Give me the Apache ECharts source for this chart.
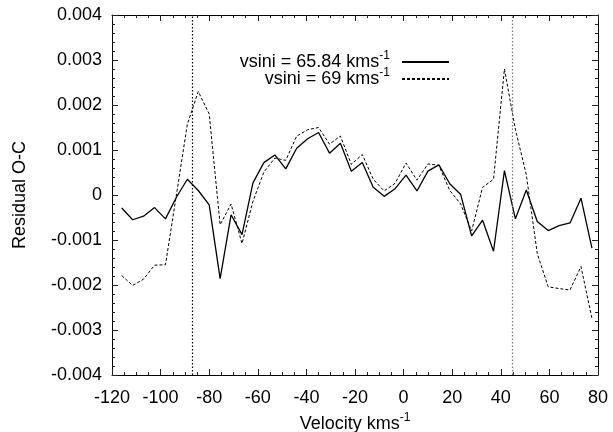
<!DOCTYPE html>
<html>
<head>
<meta charset="utf-8">
<script src="https://cdn.jsdelivr.net/npm/echarts@6/dist/echarts.min.js"></script>
<style>
html, body { margin: 0; padding: 0; background: #fff; }
#chart { width: 613px; height: 432px; }
</style>
</head>
<body>
<div id="chart"></div>
<script>
// velocity grid (km/s)
var velocity = [-116, -111.5, -107, -102.5, -98, -93.5, -89, -84.5, -80, -75.5,
	-71, -66.5, -62, -57.5, -53, -48.5, -44, -39.5, -35, -30.5,
	-26, -21.5, -17, -12.5, -8, -3.5, 1, 5.5, 10, 14.5,
	19, 23.5, 28, 32.5, 37, 41.5, 46, 50.5, 55, 59.5,
	64, 68.5, 73, 77.5];
// residuals, vsini = 65.84
var residualFit = [-0.00029, -0.00055, -0.00047, -0.00028, -0.00053, -0.00005, 0.00035, 0.0001, -0.00022, -0.00186,
	-0.00044, -0.00088, 0.00027, 0.00072, 0.00089, 0.00058, 0.00104, 0.00125, 0.00139, 0.00093,
	0.00115, 0.00053, 0.00072, 0.00017, -0.00003, 0.00014, 0.00044, 0.00009, 0.00053, 0.00067,
	0.00025, 0.00001, -0.00091, -0.00056, -0.00125, 0.00054, -0.00053, 0.00011, -0.00059, -0.00079,
	-0.00068, -0.00062, -0.00007, -0.00118];
// residuals, vsini = 69
var residualAlt = [-0.00179, -0.00201, -0.00187, -0.00156, -0.00155, 0.0, 0.00157, 0.0023, 0.0018, -0.00066,
	-0.0002, -0.00108, -0.00014, 0.00051, 0.00082, 0.00077, 0.00131, 0.00145, 0.0015, 0.00113,
	0.00131, 0.00068, 0.0009, 0.00035, 0.00009, 0.00026, 0.00071, 0.00033, 0.00069, 0.00066,
	0.0001, -0.0002, -0.0008, 0.00017, 0.00035, 0.0028, 0.00146, 0.00045, -0.0013, -0.00204,
	-0.00208, -0.00211, -0.00159, -0.00274];
var seriesNames = ['vsini = 65.84', 'vsini = 69'];
// vertical dotted markers
var guideLines = [-86.8, 44.9];

var FONT = '"Liberation Sans", Arial, sans-serif';

var chart = echarts.init(document.getElementById('chart'));

function pairs(ys) {
	var out = [];
	for (var i = 0; i < velocity.length; i++) {
		out.push([velocity[i], ys[i]]);
	}
	return out;
}

function supRich(size) {
	return {
		t: { fontSize: size, fontFamily: FONT, color: '#000' },
		s: { fontSize: 12, fontFamily: FONT, color: '#000', padding: [0, 0, 12, 0] }
	};
}

function frameAxis(pos, isX, showLabel) {
	var ax = {
		type: 'value',
		position: pos,
		axisLine: { show: true, onZero: false, lineStyle: { color: '#000', width: 1 } },
		axisTick: { show: true, inside: true, length: 6, lineStyle: { color: '#222' } },
		minorTick: { show: true, splitNumber: isX ? 4 : 5, length: 3, lineStyle: { color: '#222' } },
		splitLine: { show: false },
		axisLabel: { show: showLabel, fontSize: 18, fontFamily: FONT, color: '#000', margin: isX ? 14 : 10 }
	};
	if (isX) {
		ax.min = -120; ax.max = 80; ax.interval = 20;
	} else {
		ax.min = -0.004; ax.max = 0.004; ax.interval = 0.001;
		ax.axisLabel.formatter = function(v) {
			return Math.abs(v) < 1e-9 ? '0' : v.toFixed(3);
		};
	}
	return ax;
}

var xBottom = frameAxis('bottom', true, true);
xBottom.name = '{t|Velocity kms}{s|-1}';
xBottom.nameLocation = 'middle';
xBottom.nameGap = 36;
xBottom.nameTextStyle = { rich: supRich(18) };

var yLeft = frameAxis('left', false, true);
yLeft.name = 'Residual O-C';
yLeft.nameLocation = 'middle';
yLeft.nameRotate = 90;
yLeft.nameGap = 83;
yLeft.nameTextStyle = { fontSize: 18, fontFamily: FONT, color: '#000' };

function legendFor(name, top) {
	return {
		data: [name],
		right: 163,
		top: top,
		align: 'right',
		padding: 0,
		itemWidth: 47,
		itemHeight: 10,
		selectedMode: false,
		itemStyle: { opacity: 0 },
		formatter: function(n) { return '{t|' + n + ' kms}{s|-1}'; },
		textStyle: { padding: [0, 7, 0, 0], rich: supRich(18) }
	};
}

var option = {
	animation: false,
	backgroundColor: '#fff',
	grid: { left: 112, right: 15, top: 15, bottom: 57, containLabel: false, outerBoundsMode: 'none' },
	legend: [legendFor(seriesNames[0], 50), legendFor(seriesNames[1], 67)],
	xAxis: [xBottom, frameAxis('top', true, false)],
	yAxis: [yLeft, frameAxis('right', false, false)],
	series: [{
		name: seriesNames[0],
		type: 'line',
		xAxisIndex: 0,
		yAxisIndex: 0,
		symbol: 'none',
		lineStyle: { color: '#000', width: 1.3 },
		itemStyle: { color: '#000' },
		data: pairs(residualFit),
		markLine: {
			silent: true,
			symbol: ['none', 'none'],
			label: { show: false },
			data: [
				{ xAxis: guideLines[0], lineStyle: { color: '#000', width: 1.2, type: [1.5, 2] } },
				{ xAxis: guideLines[1], lineStyle: { color: '#777', width: 1.2, type: [1.5, 2] } }
			]
		}
	}, {
		name: seriesNames[1],
		type: 'line',
		xAxisIndex: 0,
		yAxisIndex: 0,
		symbol: 'none',
		lineStyle: { color: '#000', width: 1, type: [3, 2] },
		itemStyle: { color: '#000' },
		data: pairs(residualAlt)
	}]
};
chart.setOption(option);
</script>
</body>
</html>
